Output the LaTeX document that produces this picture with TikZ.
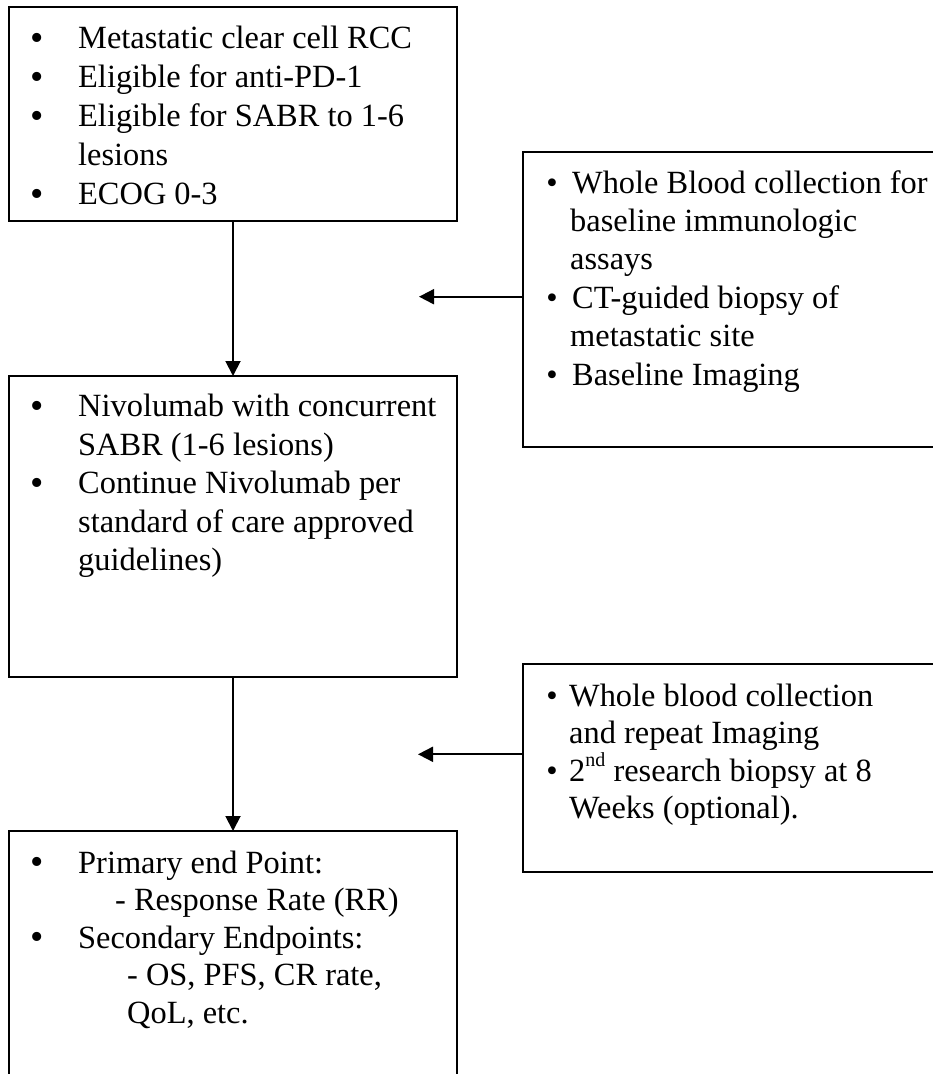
\documentclass[tikz,border=0pt]{standalone}
\usepackage{fontspec}
\setmainfont{Liberation Serif}
\usetikzlibrary{arrows.meta}
\begin{document}
\begin{tikzpicture}[x=1pt,y=-1pt,
  box/.style={draw, line width=1.9pt, inner sep=0pt, outer sep=0pt, anchor=north west},
  txt/.style={anchor=base west, inner sep=0pt, font=\fontsize{32.4}{38}\selectfont},
  bul/.style={anchor=base, inner sep=0pt, font=\fontsize{32.4}{38}\selectfont},
  bigbul/.style={anchor=base, inner sep=0pt, font=\fontsize{38}{38}\selectfont, yshift=-1.5pt},
  arr/.style={line width=1.9pt, -{Triangle[length=15pt,width=15pt]}}]
\useasboundingbox (0,0) rectangle (933,1074);
\clip (0,0) rectangle (933,1074);
% boxes
\node[box, minimum width=448pt, minimum height=214pt] (b1) at (9,7) {};
\node[box, minimum width=422pt, minimum height=295pt] (b2) at (523,152) {};
\node[box, minimum width=448pt, minimum height=301pt] (b3) at (9,376) {};
\node[box, minimum width=422pt, minimum height=208pt] (b4) at (523,664) {};
\node[box, minimum width=448pt, minimum height=259pt] (b5) at (9,831) {};
% box 1 text
\node[bigbul] (p1a) at (37,48.5) {\textbullet};
\node[txt] (t1a) at (78,48.5) {Metastatic clear cell RCC};
\node[bigbul] (p1b) at (37,87.5) {\textbullet};
\node[txt] (t1b) at (78,87.5) {Eligible for anti-PD-1};
\node[bigbul] (p1c) at (37,126.5) {\textbullet};
\node[txt] (t1c) at (78,126.5) {Eligible for SABR to 1-6};
\node[txt] (t1d) at (78,165.5) {lesions};
\node[bigbul] (p1e) at (37,204.5) {\textbullet};
\node[txt] (t1e) at (78,204.5) {ECOG 0-3};
% box 2 text
\node[bul] (p2a) at (552,193) {\textbullet};
\node[txt] (t2a) at (572,193) {Whole Blood collection for};
\node[txt] (t2b) at (570,231.4) {baseline immunologic};
\node[txt] (t2c) at (570,269.8) {assays};
\node[bul] (p2d) at (552,308.2) {\textbullet};
\node[txt] (t2d) at (572,308.2) {CT-guided biopsy of};
\node[txt] (t2e) at (570,346.6) {metastatic site};
\node[bul] (p2f) at (552,385) {\textbullet};
\node[txt] (t2f) at (572,385) {Baseline Imaging};
% box 3 text
\node[bigbul] (p3a) at (37,416.5) {\textbullet};
\node[txt] (t3a) at (78,416.5) {Nivolumab with concurrent};
\node[txt] (t3b) at (78,455) {SABR (1-6 lesions)};
\node[bigbul] (p3c) at (37,493.5) {\textbullet};
\node[txt] (t3c) at (78,493.5) {Continue Nivolumab per};
\node[txt] (t3d) at (78,532) {standard of care approved};
\node[txt] (t3e) at (78,570.5) {guidelines)};
% box 4 text
\node[bul] (p4a) at (552,706) {\textbullet};
\node[txt] (t4a) at (569,706) {Whole blood collection};
\node[txt] (t4b) at (569,743.5) {and repeat Imaging};
\node[bul] (p4c) at (552,781) {\textbullet};
\node[txt] (t4c) at (569,781) {2\raisebox{0.45em}{\fontsize{20}{20}\selectfont nd} research biopsy at 8};
\node[txt] (t4d) at (569,818.5) {Weeks (optional).};
% box 5 text
\node[bigbul] (p5a) at (37,873) {\textbullet};
\node[txt] (t5a) at (78,873) {Primary end Point:};
\node[txt] (t5b) at (115,910.5) {- Response Rate (RR)};
\node[bigbul] (p5c) at (37,948) {\textbullet};
\node[txt] (t5c) at (78,948) {Secondary Endpoints:};
\node[txt] (t5d) at (127,985.5) {- OS, PFS, CR rate,};
\node[txt] (t5e) at (127,1023) {QoL, etc.};
% connectors
\coordinate (e1) at (419,296.7);
\coordinate (e2) at (418,754.3);
\draw[arr] (b1.south) -- (b3.north);
\draw[arr] (b3.south) -- (b5.north);
\draw[arr] (b2.west |- e1) -- (e1);
\draw[arr] (b4.west |- e2) -- (e2);
\end{tikzpicture}
\end{document}
